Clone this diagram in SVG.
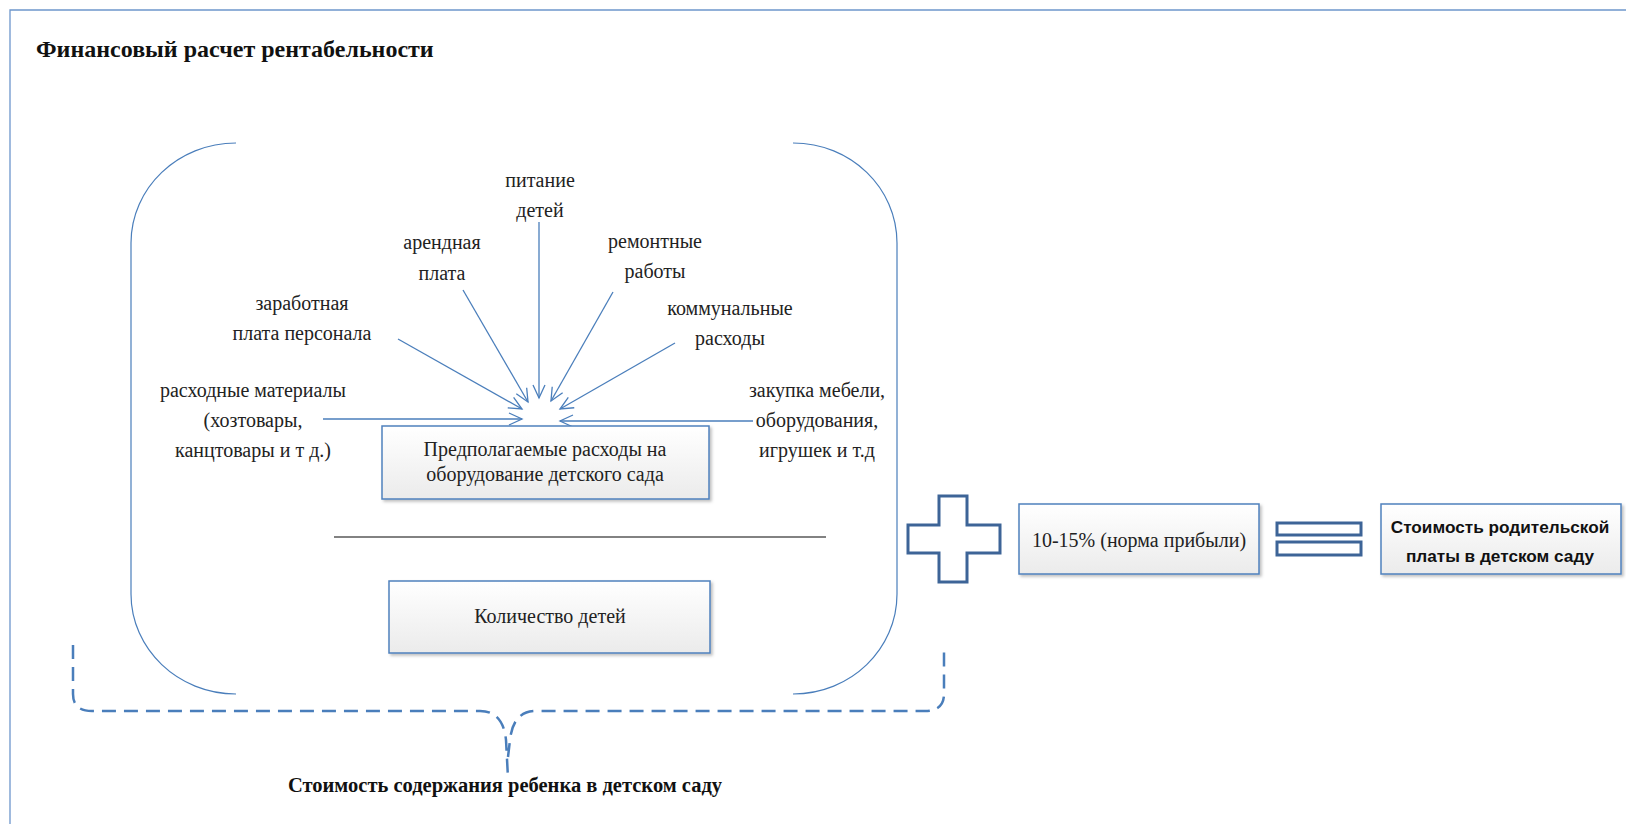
<svg xmlns="http://www.w3.org/2000/svg" width="1626" height="824" viewBox="0 0 1626 824">
<style>
.lbl{font-family:"Liberation Serif","Times New Roman",serif;font-size:20px;fill:#222;text-anchor:middle}
.ttl{font-family:"Liberation Serif","Times New Roman",serif;font-weight:bold;fill:#111}
.sans{font-family:"Liberation Sans",Arial,sans-serif;font-weight:bold;font-size:17.2px;fill:#111;text-anchor:middle}
.box{fill:url(#g);stroke:#4f81bd;stroke-width:1.5;filter:url(#sh)}
.arr{fill:none;stroke:#4a7ebb;stroke-width:1.3;marker-end:url(#ah)}
.brk{fill:none;stroke:#4a7ebb;stroke-width:1.2}
.sym{fill:#fff;stroke:#3d6497;stroke-width:3}
</style>
<defs>
<linearGradient id="g" x1="0" y1="0" x2="0" y2="1"><stop offset="0" stop-color="#ffffff"/><stop offset="1" stop-color="#ebebeb"/></linearGradient>
<filter id="sh" x="-5%" y="-10%" width="115%" height="130%"><feDropShadow dx="2" dy="2" stdDeviation="1.5" flood-color="#000" flood-opacity="0.25"/></filter>
<marker id="ah" viewBox="-15 -8 17 16" refX="0" refY="0" markerWidth="17" markerHeight="16" markerUnits="userSpaceOnUse" orient="auto"><path d="M-13,-6 L0,0 L-13,6" fill="none" stroke="#4a7ebb" stroke-width="1.3"/></marker>
</defs>
<rect width="1626" height="824" fill="#fff"/>
<path d="M10,824 V10 H1626" fill="none" stroke="#6d96cc" stroke-width="1.3"/>
<text class="ttl" x="36" y="57" font-size="24">Финансовый расчет рентабельности</text>

<g id="bracket-left"><path class="brk" d="M236,143 C178,143 131,188 131,243 V594 C131,649 178,694 236,694"/></g>
<g id="bracket-right"><path class="brk" d="M793,143 C851,143 897,188 897,243 V594 C897,649 851,694 793,694"/></g>

<g id="connectors">
<line class="arr" x1="539" y1="222" x2="539" y2="398"/>
<line class="arr" x1="463" y1="290" x2="528" y2="402"/>
<line class="arr" x1="398" y1="339" x2="522" y2="409"/>
<line class="arr" x1="323" y1="419" x2="522" y2="419"/>
<line class="arr" x1="613" y1="292" x2="551" y2="401"/>
<line class="arr" x1="675" y1="343" x2="560" y2="409"/>
<line class="arr" x1="753" y1="421" x2="560" y2="421"/>
</g>

<g id="n-pitanie"><text class="lbl" x="540" y="187">питание</text><text class="lbl" x="540" y="217">детей</text></g>
<g id="n-arenda"><text class="lbl" x="442" y="249">арендная</text><text class="lbl" x="442" y="280">плата</text></g>
<g id="n-zarplata"><text class="lbl" x="302" y="310">заработная</text><text class="lbl" x="302" y="340">плата персонала</text></g>
<g id="n-materials"><text class="lbl" x="253" y="397">расходные материалы</text><text class="lbl" x="253" y="427">(хозтовары,</text><text class="lbl" x="253" y="457">канцтовары и т д.)</text></g>
<g id="n-remont"><text class="lbl" x="655" y="248">ремонтные</text><text class="lbl" x="655" y="278">работы</text></g>
<g id="n-kommunal"><text class="lbl" x="730" y="315">коммунальные</text><text class="lbl" x="730" y="345">расходы</text></g>
<g id="n-mebel"><text class="lbl" x="817" y="397">закупка мебели,</text><text class="lbl" x="817" y="427">оборудования,</text><text class="lbl" x="817" y="457">игрушек и т.д</text></g>

<g id="n-expenses"><rect class="box" x="382" y="426" width="327" height="73"/><text class="lbl" x="545" y="456">Предполагаемые расходы на</text><text class="lbl" x="545" y="481">оборудование детского сада</text></g>
<g id="divider"><line x1="334" y1="537" x2="826" y2="537" stroke="#595959" stroke-width="1.5"/></g>
<g id="n-children"><rect class="box" x="389" y="581" width="321" height="72"/><text class="lbl" x="550" y="623">Количество детей</text></g>

<g id="brace"><path d="M73,645 V694 Q73,711 92,711 H480 Q503,711 506,740 L508,778 M508,757 L510,740 Q513,711 536,711 H925 Q944,711 944,694 V645" fill="none" stroke="#4a7ebb" stroke-width="2.5" stroke-dasharray="14 8"/></g>
<g id="n-cost-child"><text class="ttl" x="505" y="792" font-size="20.5" text-anchor="middle">Стоимость содержания ребенка в детском саду</text></g>

<g id="plus"><path class="sym" d="M939,496 H967 V525 H1000 V553 H967 V582 H939 V553 H908 V525 H939 Z"/></g>
<g id="n-profit"><rect class="box" x="1019" y="504" width="240" height="70"/><text class="lbl" x="1139" y="547">10-15% (норма прибыли)</text></g>
<g id="equals"><rect class="sym" x="1277" y="523" width="84" height="12"/><rect class="sym" x="1277" y="542" width="84" height="13"/></g>
<g id="n-parent-fee"><rect class="box" x="1381" y="504" width="240" height="70"/><text class="sans" x="1500" y="533">Стоимость родительской</text><text class="sans" x="1500" y="562">платы в детском саду</text></g>
</svg>
